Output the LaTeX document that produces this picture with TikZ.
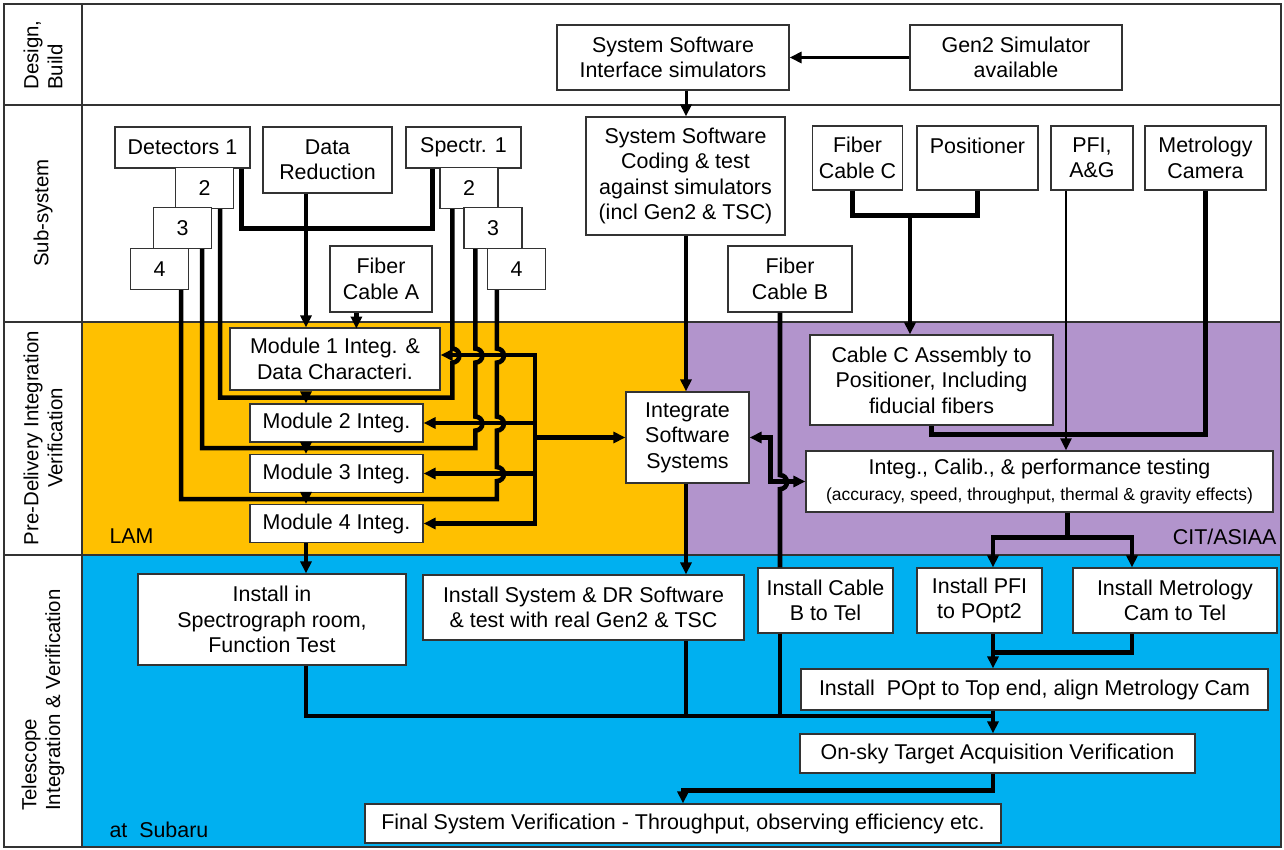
\documentclass[tikz,border=0pt]{standalone}
\usepackage{fontspec}
\setmainfont{Liberation Sans}
\usetikzlibrary{arrows.meta}

\definecolor{lamorange}{HTML}{FFC000}
\definecolor{citpurple}{HTML}{B294CC}
\definecolor{subarublue}{HTML}{00B0F0}

\tikzstyle{box}=[draw=black!80, line width=1.2bp, fill=white, align=center, inner sep=1bp, font=\fontsize{21.5}{25.5}\selectfont]
\tikzstyle{numbox}=[box, minimum width=58bp, minimum height=41bp]
\tikzstyle{link}=[draw, line width=4.6bp]
\tikzstyle{thinlink}=[draw, line width=2.6bp]
\tikzstyle{phase}=[rotate=90, font=\fontsize{20.5}{24}\selectfont]
\tikzstyle{site}=[font=\fontsize{21.5}{25.5}\selectfont]
\tikzstyle{rule}=[draw=black!80, line width=1.2bp]

\begin{document}
\begin{tikzpicture}[x=1bp, y=-1bp, >={Triangle[length=12bp,width=11bp]}]
    \useasboundingbox (0,0) rectangle (1284,850);
    % First we draw the coloured areas and the table lines
    \fill[lamorange] (82,322) rectangle (686,555);
    \fill[citpurple] (686,322) rectangle (1281,555);
    \fill[subarublue] (82,555) rectangle (1281,847);
    \draw[rule] (4,4) rectangle (1281,847);
    \draw[rule] (82,4) -- (82,847);
    \foreach \y in {105,322,555}
        \draw[rule] (4,\y) -- (1281,\y);

    % Phase names and sites
    \node[phase, align=left] (phdesign) at (43,55) {Design,\\Build};
    \node[phase] (phsub) at (43,213) {Sub-system};
    \node[phase, align=center] (phpre) at (43,438) {Pre-Delivery Integration\\Verification};
    \node[phase, align=left] (phtel) at (43,700) {Telescope\\Integration \& Verification};
    \node[site, anchor=west] (lam) at (106,536) {LAM};
    \node[site, anchor=east] (cit) at (1280,537) {CIT/ASIAA};
    \node[site, anchor=west] (subaru) at (106,830) {at~ Subaru};

    % Then the boxes
    \node[box, minimum width=232bp, minimum height=65bp] (sysif) at (673,57.5) {System Software\\Interface simulators};
    \node[box, minimum width=212bp, minimum height=65bp] (gensim) at (1016,57.5) {Gen2 Simulator\\available};
    \node[box, minimum width=199bp, minimum height=118bp] (swcode) at (685.5,176) {System Software\\Coding \& test\\against simulators\\(incl Gen2 \& TSC)};

    \node[box, minimum width=135bp, minimum height=41bp] (det1) at (182.5,147.5) {Detectors 1};
    \node[box, minimum width=115bp, minimum height=41bp] (spec1) at (463.5,147.5) {Spectr. 1};
    \foreach \pos/\name/\num in {{(204.5,188)/det2/2}, {(182.5,228)/det3/3}, {(159.5,269)/det4/4},
                                {(469,188)/spec2/2}, {(493,228)/spec3/3}, {(516.5,269)/spec4/4}}
        \node[numbox] (\name) at \pos {\num};
    \node[box, minimum width=129bp, minimum height=66bp] (datared) at (327.5,160) {Data\\Reduction};
    \node[box, minimum width=102bp, minimum height=66bp] (fibA) at (381,279) {Fiber\\Cable A};

    \node[box, minimum width=90bp, minimum height=64bp] (fibC) at (857.5,158) {Fiber\\Cable C};
    \node[box, minimum width=121bp, minimum height=64bp] (posit) at (977.5,158) {Positioner\\\mbox{}};
    \node[box, minimum width=82bp, minimum height=64bp] (pfi) at (1092,158) {PFI,\\A\&G};
    \node[box, minimum width=121bp, minimum height=64bp] (metcam) at (1205.5,158) {Metrology\\Camera};
    \node[box, minimum width=124bp, minimum height=66bp] (fibB) at (790,279) {Fiber\\Cable B};

    \node[box, minimum width=210bp, minimum height=62bp] (mod1) at (335,359) {Module 1 Integ. \&\\Data Characteri.};
    \node[box, minimum width=173bp, minimum height=38bp] (mod2) at (336.5,423) {Module 2 Integ.};
    \node[box, minimum width=173bp, minimum height=38bp] (mod3) at (336.5,473.5) {Module 3 Integ.};
    \node[box, minimum width=173bp, minimum height=38bp] (mod4) at (336.5,523.5) {Module 4 Integ.};
    \node[box, minimum width=123bp, minimum height=91bp] (integ) at (687.5,437.5) {Integrate\\Software\\Systems};
    \node[box, minimum width=243bp, minimum height=90bp] (cabC) at (931.5,380) {Cable C Assembly to\\Positioner, Including\\fiducial fibers};
    \node[box, minimum width=467bp, minimum height=61bp] (calib) at (1039.5,481.5) {Integ., Calib., \& performance testing\\{\fontsize{17.5}{20}\selectfont (accuracy, speed, throughput, thermal \& gravity effects)}};

    \node[box, minimum width=268bp, minimum height=91bp] (inspec) at (272,619.5) {Install in\\Spectrograph room,\\Function Test};
    \node[box, minimum width=321bp, minimum height=65bp] (insw) at (583.5,607.5) {Install System \& DR Software\\\& test with real Gen2 \& TSC};
    \node[box, minimum width=135bp, minimum height=65bp] (incab) at (825.5,600.5) {Install Cable\\B to Tel};
    \node[box, minimum width=125bp, minimum height=65bp] (inpfi) at (979.5,600.5) {Install PFI\\to POpt2};
    \node[box, minimum width=204bp, minimum height=65bp] (inmet) at (1175,600.5) {Install Metrology\\Cam to Tel};
    \node[box, minimum width=467bp, minimum height=41bp] (inpopt) at (1034.5,689.5) {Install~ POpt to Top end, align Metrology Cam};
    \node[box, minimum width=395bp, minimum height=39bp] (onsky) at (997.5,753.5) {On-sky Target Acquisition Verification};
    \node[box, minimum width=636bp, minimum height=39bp] (final) at (683,823.5) {Final System Verification - Throughput, observing efficiency etc.};

    % Columns and joints the links run along
    \coordinate (spine) at (306,0);
    \coordinate (swcol) at (686,0);
    \coordinate (fibcol) at (780,0);
    \coordinate (pficol) at (1066,0);
    \coordinate (popcol) at (993,0);
    \coordinate (metcol) at (1132,0);
    \coordinate (hub) at (535,437.5);
    \coordinate (cjoin) at (910,215);
    \coordinate (bus) at (993,716);

    % Software chain
    \draw[link, line width=3bp, ->] (gensim) -- (sysif);
    \draw[link, line width=3bp, ->] (sysif.south -| swcol) -- (swcode.north -| swcol);
    \draw[link, ->] (swcode.south -| swcol) -- (integ.north -| swcol);
    \draw[link, ->] (integ.south -| swcol) -- (insw.north -| swcol);

    % LAM sub-systems into the modules
    \draw[link] ([xshift=-9bp]det1.south east) -- ++(0,60) -| ([xshift=27bp]spec1.south west);
    \draw[link, ->] (datared.south -| spine) -- (mod1.north -| spine);
    \draw[link, ->] ([xshift=27bp]fibA.south west) -- ++(0,16);
    \draw[link] ([xshift=13bp]spec2.south west) -- ++(0,139.5) arc (90:-90:7bp)
        -- ++(0,35) -| ([xshift=-14bp]det2.south east);
    \draw[link] ([xshift=12bp]spec3.south west) -- ++(0,99.5) arc (90:-90:7bp)
        -- ++(0,54) arc (90:-90:7bp) -- ++(0,17.5) -| ([xshift=-10bp]det3.south east);
    \draw[link] ([xshift=10bp]spec4.south west) -- ++(0,58.5) arc (90:-90:7bp)
        -- ++(0,54) arc (90:-90:7bp) -- ++(0,36.5) arc (90:-90:7bp)
        -- ++(0,18) -| ([xshift=-8bp]det4.south east);
    \foreach \m in {mod2,mod3,mod4}
        \draw[link, ->] (\m.north -| spine) ++(0,-8) -- (\m.north -| spine);
    \draw[link, ->] (mod4.south -| spine) -- (inspec.north -| spine);

    % Software hub to the modules
    \draw[link, ->] (hub) -- (integ.west);
    \draw[link, ->] (hub) |- ([yshift=4bp]mod1.east);
    \draw[link, ->] (hub) |- (mod2.east);
    \draw[link, ->] (hub) |- (mod3.east);
    \draw[link, ->] (hub) |- (mod4.east);
    \draw[link, <->] (integ.east) -- ++(21,0) |- (calib.west);

    % CIT/ASIAA side
    \draw[link] ([xshift=-5bp]fibC.south) -- ++(0,25) -| (posit.south);
    \draw[link, ->] (cjoin) -- (cabC.north -| cjoin);
    \draw[thinlink, ->] (pfi.south -| pficol) -- (calib.north -| pficol);
    \draw[link] (metcam.south) |- ([yshift=-9bp]cabC.south) -- (cabC.south);
    \draw[link] (fibB.south -| fibcol) -- ++(0,162.5) arc (90:-90:7bp) -- (incab.north -| fibcol);
    \draw[link] ([xshift=28bp]calib.south) -- ++(0,25) coordinate (split);
    \draw[link, ->] (split) -| (inpfi.north -| popcol);
    \draw[link, ->] (split) -| (inmet.north -| metcol);
    \draw[link, ->] (inpfi.south -| popcol) -- (inpopt.north -| popcol);
    \draw[link] (inmet.south -| metcol) -- ++(0,19) -| (inpfi.south -| popcol);

    % Everything comes together at Subaru
    \draw[link] (inspec.south -| spine) |- (bus);
    \draw[link] (insw.south -| swcol) -- (bus -| swcol);
    \draw[link] (incab.south -| fibcol) -- (bus -| fibcol);
    \draw[link] (inpopt.south -| popcol) -- (bus);
    \draw[link, ->] (bus) -- (onsky.north -| popcol);
    \draw[link, ->] (onsky.south -| popcol) -- ++(0,17) -| (final.north);
\end{tikzpicture}
\end{document}
